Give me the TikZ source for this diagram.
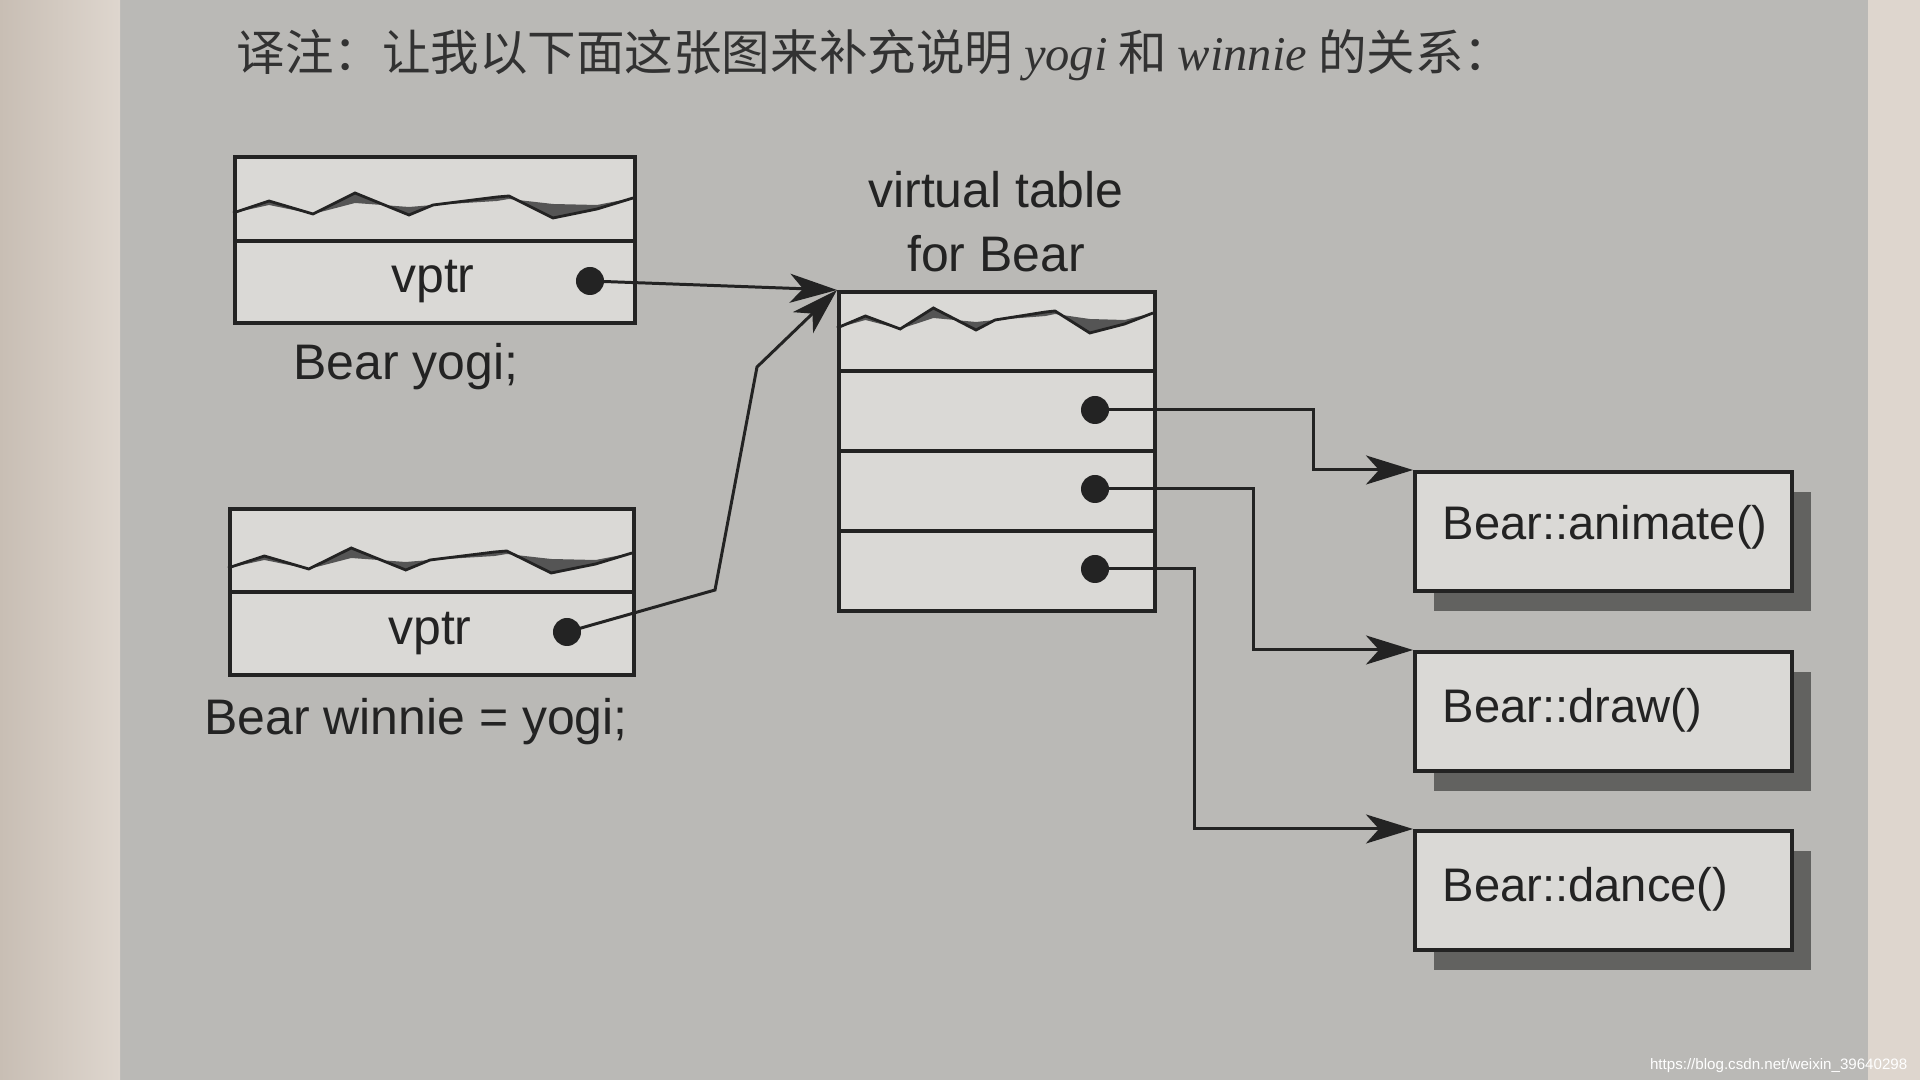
\documentclass[tikz,border=0pt]{standalone}
\usepackage{fontspec}
\setmainfont{Liberation Sans}
\newfontfamily\cjk{Noto Sans CJK SC}
\newfontfamily\tnr{Liberation Serif}
\usetikzlibrary{arrows.meta,calc,shadows}
\definecolor{page}{RGB}{186,185,182}
\definecolor{margL}{RGB}{200,190,180}
\definecolor{margR}{RGB}{222,214,206}
\definecolor{boxfill}{RGB}{218,217,214}
\definecolor{ink}{RGB}{35,35,35}
\definecolor{shadowc}{RGB}{98,98,96}
\definecolor{wavec}{RGB}{85,85,85}
\definecolor{titleink}{RGB}{50,50,50}
\tikzset{
  cell/.style={draw=ink, fill=boxfill, line width=1pt, rectangle, inner sep=0pt, anchor=north west},
  fbox/.style={cell, minimum width=3.77cm, minimum height=1.19cm,
    drop shadow={shadow xshift=0.19cm, shadow yshift=-0.20cm, fill=shadowc, opacity=1}},
  dotn/.style={circle, fill=ink, inner sep=0pt, minimum size=0.28cm},
  ptr/.style={draw=ink, line width=0.85pt, -{Stealth[length=0.47cm,width=0.29cm,inset=0.13cm]}},
  lbl/.style={text=ink, font=\fontsize{14.2}{17}\selectfont, anchor=base, inner sep=0pt},
  flbl/.style={text=ink, font=\fontsize{13.4}{16}\selectfont, anchor=base west, inner sep=0pt},
  wavefill/.style={fill=wavec},
  wavepen/.style={draw=ink, line width=0.8pt, line join=miter},
}
\newcommand{\wavy}[3]{%
  \fill[wavefill] ({#1},{#2+8}) -- ({#1+.09*#3},{#2-4}) -- ({#1+.2*#3},{#2+9}) -- ({#1+.305*#3},{#2-12}) -- ({#1+.44*#3},{#2+10}) -- ({#1+.5*#3},{#2}) -- ({#1+.66*#3},{#2-8}) -- ({#1+.69*#3},{#2-9}) -- ({#1+.8*#3},{#2+13}) -- ({#1+.91*#3},{#2+4}) -- ({#1+#3},{#2-7})
   -- ({#1+.91*#3},{#2}) -- ({#1+.8*#3},{#2-1}) -- ({#1+.69*#3},{#2-6}) -- ({#1+.66*#3},{#2-4}) -- ({#1+.5*#3},{#2}) -- ({#1+.44*#3},{#2+2}) -- ({#1+.305*#3},{#2-2}) -- ({#1+.2*#3},{#2+9}) -- ({#1+.09*#3},{#2}) -- cycle;
  \draw[wavepen] ({#1},{#2+8}) -- ({#1+.09*#3},{#2-4}) -- ({#1+.2*#3},{#2+9}) -- ({#1+.305*#3},{#2-12}) -- ({#1+.44*#3},{#2+10}) -- ({#1+.5*#3},{#2}) -- ({#1+.66*#3},{#2-8}) -- ({#1+.69*#3},{#2-9}) -- ({#1+.8*#3},{#2+13}) -- ({#1+.91*#3},{#2+4}) -- ({#1+#3},{#2-7});
}
\begin{document}
\begin{tikzpicture}[x=0.01cm, y=-0.01cm]
\useasboundingbox (0,0) rectangle (1920,1080);
% page background
\fill[page] (0,0) rectangle (1920,1080);
\shade[left color=margL, right color=margR] (0,0) rectangle (120,1080);
\fill[margR] (1868,0) rectangle (1920,1080);

% title
\node[anchor=base west, inner sep=0pt, text=titleink, font=\cjk\fontsize{13.8}{16}\selectfont] (title) at (236,71)
  {译注：让我以下面这张图来补充说明 {\tnr\itshape yogi} 和 {\tnr\itshape winnie} 的关系：};

% object yogi
\node[cell, minimum width=4.00cm, minimum height=0.84cm] (yogiA) at (233,155) {};
\node[cell, minimum width=4.00cm, minimum height=0.82cm] (yogiB) at (233,239) {};
\wavy{233}{205}{400}
\node[lbl] (yogiV) at (433,293) {vptr};
\node[dotn] (yogiDot) at (590,281) {};
\node[lbl] (yogiL) at (406,380) {Bear yogi;};

% object winnie
\node[cell, minimum width=4.04cm, minimum height=0.83cm] (winA) at (228,507) {};
\node[cell, minimum width=4.04cm, minimum height=0.83cm] (winB) at (228,590) {};
\wavy{228}{560}{404}
\node[lbl] (winV) at (430,645) {vptr};
\node[dotn] (winDot) at (567,632) {};
\node[lbl] (winL) at (416,735) {Bear winnie = yogi;};

% virtual table
\node[lbl] (vtT1) at (996,208) {virtual table};
\node[lbl] (vtT2) at (996,272) {for Bear};
\node[cell, minimum width=3.16cm, minimum height=0.79cm] (vt0) at (837,290) {};
\node[cell, minimum width=3.16cm, minimum height=0.80cm] (vt1) at (837,369) {};
\node[cell, minimum width=3.16cm, minimum height=0.80cm] (vt2) at (837,449) {};
\node[cell, minimum width=3.16cm, minimum height=0.80cm] (vt3) at (837,529) {};
\wavy{837}{320}{316}
\node[dotn] (d1) at (1095,410) {};
\node[dotn] (d2) at (1095,489) {};
\node[dotn] (d3) at (1095,569) {};

% function boxes
\node[fbox] (fA) at (1413,470) {};
\node[fbox] (fB) at (1413,650) {};
\node[fbox] (fC) at (1413,829) {};
\node[flbl] (fAl) at (1442,540) {Bear::animate()};
\node[flbl] (fBl) at (1442,723) {Bear::draw()};
\node[flbl] (fCl) at (1442,902) {Bear::dance()};

% connectors
\coordinate (w1) at (715,590);
\coordinate (w2) at (757,367);
\draw[ptr] (yogiDot.center) -- (vt0.north west);
\draw[ptr] (winDot.center) -- (w1) -- (w2) -- (vt0.north west);
\coordinate (b1) at (1313,410);
\coordinate (b2) at (1253,489);
\coordinate (b3) at (1194,569);
\draw[ptr] (d1.center) -- (b1) |- (fA.north west);
\draw[ptr] (d2.center) -- (b2) |- (fB.north west);
\draw[ptr] (d3.center) -- (b3) |- (fC.north west);

% watermark
\node[anchor=base east, text=white, inner sep=0pt, font=\fontsize{4.3}{5}\selectfont] (wm) at (1908,1070) {https://blog.csdn.net/weixin\_39640298};
\end{tikzpicture}
\end{document}
